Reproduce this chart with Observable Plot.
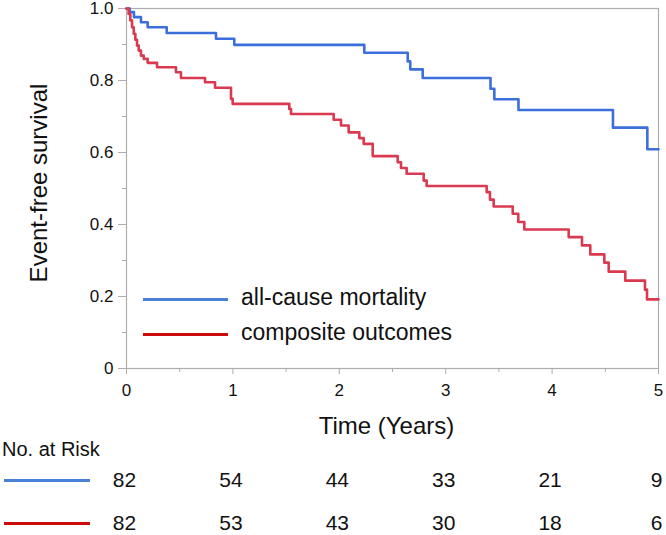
<!DOCTYPE html>
<html>
<head>
<meta charset="utf-8">
<script src="https://cdn.jsdelivr.net/npm/d3@7"></script>
<script src="https://cdn.jsdelivr.net/npm/@observablehq/plot@0.6"></script>
<style>
  html, body { margin: 0; padding: 0; background: #fff; }
  #wrap { position: relative; width: 666px; height: 535px; overflow: hidden; font-family: "Liberation Sans", Arial, Helvetica, sans-serif; color: #111; }
  #wrap > * { position: absolute; }
  .swatch { height: 0; border-top-style: solid; border-top-width: 3px; }
  .txt { white-space: nowrap; line-height: 1; }
</style>
</head>
<body>
<div id="wrap"></div>
<script>
// ---- data ----
const seriesNames = ["all-cause mortality", "composite outcomes"];

const mortalityTime = [0, 0.03, 0.07, 0.136, 0.199, 0.378, 0.841, 1.013, 2.235, 2.643, 2.667, 2.784, 3.421, 3.457, 3.684, 4.572, 4.895, 5.0];
const mortalitySurv = [1.0, 0.990, 0.976, 0.962, 0.948, 0.932, 0.916, 0.899, 0.877, 0.853, 0.831, 0.807, 0.777, 0.748, 0.718, 0.669, 0.609, 0.609];

const compositeTime = [0, 0.02, 0.036, 0.052, 0.068, 0.083, 0.099, 0.115, 0.136, 0.162, 0.199, 0.287, 0.465, 0.512, 0.738, 0.832, 0.982, 0.998, 1.530, 1.546, 1.947, 2.016, 2.088, 2.188, 2.229, 2.314, 2.549, 2.580, 2.633, 2.793, 2.821, 3.385, 3.416, 3.451, 3.630, 3.682, 3.739, 4.156, 4.281, 4.359, 4.491, 4.532, 4.688, 4.873, 4.892, 5.0];
const compositeSurv = [1.0, 0.985, 0.967, 0.948, 0.930, 0.913, 0.897, 0.883, 0.869, 0.860, 0.849, 0.837, 0.823, 0.807, 0.795, 0.780, 0.749, 0.735, 0.721, 0.707, 0.691, 0.675, 0.656, 0.640, 0.624, 0.590, 0.573, 0.557, 0.541, 0.522, 0.507, 0.490, 0.469, 0.450, 0.430, 0.407, 0.386, 0.365, 0.342, 0.317, 0.294, 0.269, 0.244, 0.219, 0.192, 0.192];

const xTicks = [0, 1, 2, 3, 4, 5];
const xMinorTicks = [0.5, 1.5, 2.5, 3.5, 4.5];
const yTicks = [0, 0.2, 0.4, 0.6, 0.8, 1.0];
const yMinorTicks = [0.1, 0.3, 0.5, 0.7, 0.9];

const riskTimes = [0, 1, 2, 3, 4, 5];
const riskMortality = [82, 54, 44, 33, 21, 9];
const riskComposite = [82, 53, 43, 30, 18, 6];

const yLabel = "Event-free survival";
const xLabel = "Time (Years)";
const riskTitle = "No. at Risk";

// ---- styling ----
const FONT = '"Liberation Sans", Arial, Helvetica, sans-serif';
const curveColors = ["#3c6fdc", "#d93a50"];
const keyColors = ["#4a7fd6", "#cc0a0a"];
const axisGray = "#adadad";

const curves = [
  ...mortalityTime.map((t, i) => ({t, s: mortalitySurv[i], series: seriesNames[0]})),
  ...compositeTime.map((t, i) => ({t, s: compositeSurv[i], series: seriesNames[1]}))
];

const wrap = document.getElementById("wrap");

const main = Plot.plot({
  width: 666,
  height: 440,
  marginLeft: 126,
  marginRight: 8,
  marginTop: 8,
  marginBottom: 72,
  style: {fontFamily: FONT, background: "#fff", color: "#111", overflow: "visible"},
  x: {domain: [0, 5]},
  y: {domain: [0, 1]},
  color: {domain: seriesNames, range: curveColors},
  marks: [
    Plot.axisX({ticks: xMinorTicks, tickSize: 4, stroke: axisGray, text: null, label: null}),
    Plot.axisX({ticks: xTicks, tickSize: 6, stroke: axisGray, fill: "#111", fontSize: 17, tickPadding: 9, label: null,
      tickFormat: d => String(d)}),
    Plot.axisY({ticks: yMinorTicks, tickSize: 4, stroke: axisGray, text: null, label: null}),
    Plot.axisY({ticks: yTicks, tickSize: 8, stroke: axisGray, fill: "#111", fontSize: 17, tickPadding: 5, label: null,
      tickFormat: d => d === 0 ? "0" : d.toFixed(1)}),
    Plot.frame({stroke: axisGray, strokeWidth: 1.2}),
    Plot.line(curves, {x: "t", y: "s", z: "series", stroke: "series", curve: "step-after", strokeWidth: 2.6}),
    Plot.text([xLabel], {text: d => d, frameAnchor: "bottom", dy: 65, dx: -6, fontSize: 24, fill: "#111"})
  ]
});
main.style.left = "0px";
main.style.top = "0px";
wrap.appendChild(main);

// y-axis title
const yl = document.createElement("div");
yl.className = "txt";
yl.textContent = yLabel;
yl.style.left = "39px";
yl.style.top = "183px";
yl.style.fontSize = "24px";
yl.style.transform = "translate(-50%, -50%) rotate(-90deg)";
wrap.appendChild(yl);

// legend inside the plot area
const legendRows = [299, 334];
seriesNames.forEach((name, i) => {
  const sw = document.createElement("div");
  sw.className = "swatch";
  sw.style.left = "143px";
  sw.style.width = "85px";
  sw.style.top = (legendRows[i] - 1.5) + "px";
  sw.style.borderTopColor = keyColors[i];
  wrap.appendChild(sw);
  const tx = document.createElement("div");
  tx.className = "txt";
  tx.textContent = name;
  tx.style.left = "241px";
  tx.style.fontSize = "23px";
  tx.style.top = (legendRows[i] - 13.5) + "px";
  wrap.appendChild(tx);
});

// number at risk table
const nar = document.createElement("div");
nar.className = "txt";
nar.textContent = riskTitle;
nar.style.left = "2px";
nar.style.top = "439px";
nar.style.fontSize = "20px";
wrap.appendChild(nar);

const riskRows = [
  ...riskTimes.map((t, i) => ({t, n: riskMortality[i], series: seriesNames[0]})),
  ...riskTimes.map((t, i) => ({t, n: riskComposite[i], series: seriesNames[1]}))
];

const risk = Plot.plot({
  width: 666,
  height: 75,
  marginLeft: 126,
  marginRight: 8,
  marginTop: 20,
  marginBottom: 12,
  style: {fontFamily: FONT, background: "transparent", color: "#111", overflow: "visible"},
  x: {domain: [0, 5], axis: null},
  y: {type: "point", domain: seriesNames, padding: 0, axis: null},
  marks: [
    Plot.text(riskRows, {x: "t", y: "series", text: d => String(d.n), fontSize: 21, fill: "#111", dx: -2})
  ]
});
risk.style.left = "0px";
risk.style.top = "460px";
wrap.appendChild(risk);

const riskRowY = [480, 523];
seriesNames.forEach((name, i) => {
  const sw = document.createElement("div");
  sw.className = "swatch";
  sw.style.left = "4px";
  sw.style.width = "86px";
  sw.style.top = (riskRowY[i] - 1.5) + "px";
  sw.style.borderTopColor = keyColors[i];
  wrap.appendChild(sw);
});
</script>
</body>
</html>
